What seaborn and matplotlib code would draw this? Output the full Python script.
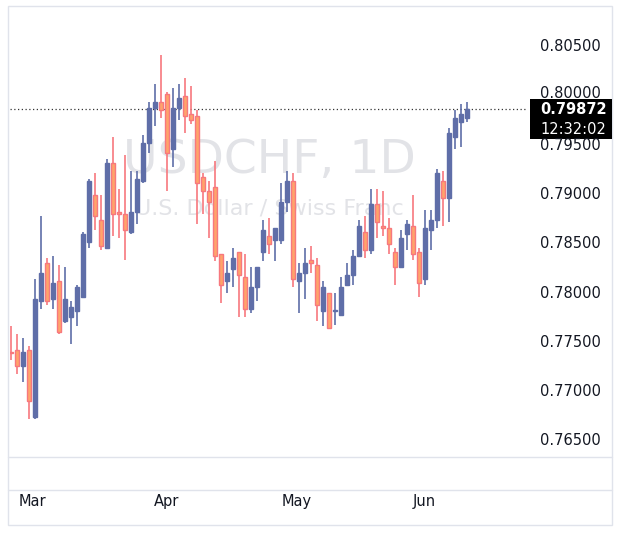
import numpy as np
import matplotlib.pyplot as plt
import seaborn as sns
from matplotlib.patches import Rectangle

sns.set_theme(style="white")
plt.rcParams['font.family'] = ['DejaVu Sans']

# daily OHLC (x1e-4)
opens = [7740, 7742, 7726, 7742, 7674, 7792, 7830, 7794, 7812, 7772, 7776, 7782, 7796, 7852, 7900,
         7874, 7846, 7932, 7882, 7880, 7862, 7882, 7914, 7952, 7988, 7994, 8002, 7946, 7988, 8000,
         7982, 7980, 7918, 7904, 7908, 7840, 7812, 7824, 7842, 7816, 7784, 7806, 7842, 7858, 7854,
         7854, 7892, 7914, 7812, 7820, 7834, 7828, 7782, 7800, 7782, 7778, 7808, 7818, 7838, 7862,
         7844, 7890, 7868, 7866, 7842, 7826, 7860, 7868, 7842, 7814, 7864, 7874, 7914, 7896, 7958,
         7974, 7978]
highs = [7766, 7758, 7754, 7746, 7814, 7878, 7836, 7838, 7828, 7826, 7792, 7808, 7862, 7916, 7922,
         7900, 7936, 7958, 7906, 7940, 7924, 7924, 7960, 7994, 8012, 8042, 8004, 8008, 8012, 8018,
         8010, 7986, 7922, 7914, 7934, 7840, 7832, 7846, 7842, 7840, 7826, 7826, 7874, 7876, 7866,
         7912, 7924, 7922, 7830, 7846, 7848, 7836, 7812, 7800, 7800, 7816, 7830, 7844, 7874, 7878,
         7906, 7906, 7904, 7876, 7846, 7864, 7874, 7900, 7846, 7884, 7884, 7926, 7924, 7968, 7986,
         7992, 7994]
lows = [7732, 7718, 7710, 7672, 7672, 7784, 7788, 7784, 7758, 7770, 7748, 7766, 7796, 7846, 7864,
        7844, 7846, 7858, 7856, 7834, 7860, 7870, 7912, 7942, 7970, 7978, 7904, 7928, 7976, 7962,
        7972, 7870, 7880, 7856, 7832, 7790, 7800, 7806, 7776, 7776, 7780, 7792, 7832, 7840, 7832,
        7850, 7882, 7806, 7780, 7794, 7820, 7772, 7766, 7764, 7768, 7778, 7808, 7808, 7838, 7836,
        7840, 7856, 7858, 7840, 7808, 7826, 7844, 7834, 7796, 7808, 7844, 7866, 7868, 7872, 7946,
        7948, 7974]
closes = [7739, 7726, 7740, 7690, 7794, 7820, 7792, 7810, 7760, 7794, 7786, 7806, 7860, 7914, 7878,
          7848, 7932, 7880, 7880, 7864, 7882, 7916, 7952, 7988, 7994, 7986, 7942, 7988, 7998, 7980,
          7976, 7912, 7904, 7892, 7838, 7808, 7820, 7836, 7818, 7784, 7806, 7826, 7864, 7850, 7866,
          7892, 7914, 7814, 7820, 7830, 7830, 7788, 7806, 7764, 7783, 7806, 7818, 7838, 7868, 7844,
          7890, 7872, 7866, 7850, 7826, 7856, 7870, 7840, 7810, 7866, 7874, 7922, 7896, 7962, 7978,
          7982, 7987.2]
price_ticks = [0.765, 0.770, 0.775, 0.780, 0.785, 0.790, 0.795, 0.800, 0.805]
month_pos = [3.7, 25.9, 47.7, 68.9]
month_labels = ["Mar", "Apr", "May", "Jun"]
last_price = "0.79872"
countdown = "12:32:02"

o = np.array(opens) / 1e4
h = np.array(highs) / 1e4
l = np.array(lows) / 1e4
c = np.array(closes) / 1e4
x = np.arange(len(o))

BLUE = '#5f6ea8'
PINK = '#f7787e'
ORANGE = '#ffa36b'

W, H = 623, 541
fig = plt.figure(figsize=(W / 100, H / 100), dpi=100)
ax = fig.add_axes([10 / W, (H - 457) / H, 518 / W, 452 / H])

for i in x:
    up = c[i] >= o[i]
    col = BLUE if up else PINK
    ax.vlines(i, l[i], h[i], color=col, linewidth=1.2, zorder=2)
    lo, hi = min(o[i], c[i]), max(o[i], c[i])
    ax.add_patch(Rectangle((i - 0.36, lo), 0.72, max(hi - lo, 0.00003),
                           facecolor=BLUE if up else ORANGE,
                           edgecolor=col, linewidth=1.0, zorder=3))

ax.set_xlim(-0.12, 86.2)
ax.set_ylim(0.76335, 0.80924)
ax.set_xticks([])
ax.set_yticks([])
for s in ax.spines.values():
    s.set_visible(False)

# last price line
ax.axhline(c[-1], color='#333333', linestyle=(0, (1, 2)), linewidth=0.9, zorder=1)

# watermark
ax.text(0.5, 0.655, "USDCHF, 1D", transform=ax.transAxes, ha='center', va='center',
        fontsize=34, color='#e2e3e7', zorder=0)
ax.text(0.5, 0.55, "U.S. Dollar / Swiss Franc", transform=ax.transAxes, ha='center', va='center',
        fontsize=16, color='#e2e3e7', zorder=0)

# price scale (0.80000 sits partly under the last-price box)
for p in price_ticks:
    if p == 0.800:
        continue
    yf = ax.transData.transform((0, p))[1]
    yfig = fig.transFigure.inverted().transform((0, yf))[1]
    fig.text(540 / W, yfig, f"{p:.5f}", ha='left', va='center', fontsize=10.5, color='#131722')
fig.text(540 / W, (H - 94) / H, "0.80000", ha='left', va='center', fontsize=10.5, color='#131722', zorder=1)
fig.patches.append(Rectangle((530 / W, (H - 120) / H), 82 / W, 21 / H, transform=fig.transFigure,
                             facecolor='black', edgecolor='none', zorder=2))
fig.patches.append(Rectangle((530 / W, (H - 139) / H), 82 / W, 19 / H, transform=fig.transFigure,
                             facecolor='black', edgecolor='none', zorder=2))
fig.text(540 / W, (H - 109) / H, last_price, ha='left', va='center', fontsize=10.5,
         color='white', weight='bold', zorder=3)
fig.text(540 / W, (H - 129) / H, countdown, ha='left', va='center', fontsize=10.5,
         color='white', zorder=3)

# time axis
tax = fig.add_axes([10 / W, (H - 525) / H, 518 / W, 35 / H])
tax.set_xlim(ax.get_xlim())
tax.set_yticks([])
tax.set_xticks(month_pos)
tax.set_xticklabels(month_labels, fontsize=10.5, color='#131722')
tax.tick_params(axis='x', length=0, pad=-22)
tax.patch.set_alpha(0)
for s in tax.spines.values():
    s.set_visible(False)

# frame and separators
for yy in (457, 490):
    fig.add_artist(plt.Line2D([8 / W, 612 / W], [(H - yy) / H] * 2, color='#e0e3eb', linewidth=1))
fig.patches.append(Rectangle((8 / W, (H - 525) / H), 604 / W, 519 / H, transform=fig.transFigure,
                             facecolor='none', edgecolor='#e0e3eb', linewidth=1))

fig.savefig("out.png", dpi=100)
